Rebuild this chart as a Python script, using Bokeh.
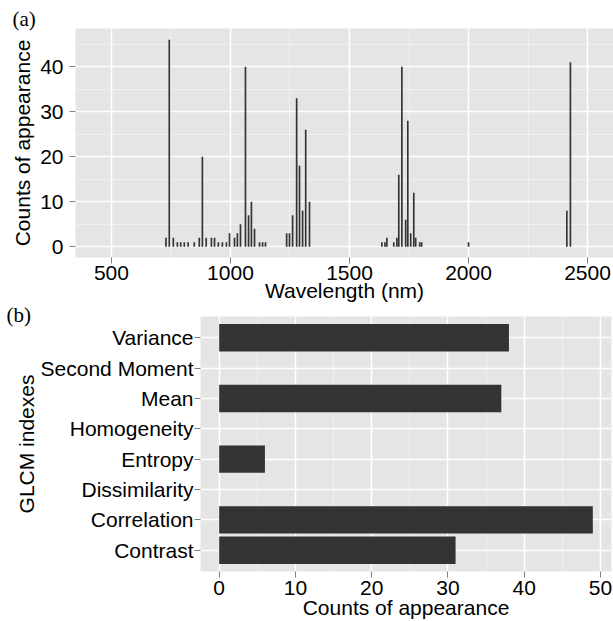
from bokeh.plotting import figure
from bokeh.layouts import column, row
from bokeh.models import ColumnDataSource, Range1d, FactorRange, FixedTicker
from bokeh.embed import file_html
from bokeh.resources import INLINE

# ---- data (a) ----
wavelengths = [729, 743, 760, 777, 791, 806, 822, 848, 869, 882, 898, 920, 933, 949, 966, 983, 996,
               1017, 1029, 1042, 1063, 1076, 1088, 1101, 1122, 1135, 1147,
               1236, 1248, 1261, 1278, 1290, 1303, 1316, 1332,
               1636, 1649, 1657, 1686, 1699, 1707, 1720, 1736, 1745, 1757, 1770, 1778, 1795, 1803,
               2000, 2413, 2428]
counts = [2, 46, 2, 1, 1, 1, 1, 1, 2, 20, 2, 2, 2, 1, 1, 1, 3,
          2, 3, 5, 40, 7, 10, 4, 1, 1, 1,
          3, 3, 7, 33, 18, 8, 26, 10,
          1, 1, 2, 1, 2, 16, 40, 6, 28, 3, 12, 2, 1, 1,
          1, 8, 41]
x_ticks_a = [500, 1000, 1500, 2000, 2500]
x_minor_a = [750, 1250, 1750, 2250]
y_ticks_a = [0, 10, 20, 30, 40]
y_minor_a = [5, 15, 25, 35, 45]

# ---- data (b) ----
glcm = ["Contrast", "Correlation", "Dissimilarity", "Entropy",
        "Homogeneity", "Mean", "Second Moment", "Variance"]
glcm_counts = [31, 49, 0, 6, 0, 37, 0, 38]
x_ticks_b = [0, 10, 20, 30, 40, 50]
x_minor_b = [5, 15, 25, 35, 45]

FONT = "Liberation Sans"
SERIF = "Liberation Serif"
BAR = "#333333"
PANEL = "#E5E5E5"


def style(p):
    p.background_fill_color = PANEL
    p.border_fill_color = "white"
    p.outline_line_color = None
    for ax in p.axis:
        ax.axis_line_color = None
        ax.major_tick_line_color = "#7F7F7F"
        ax.major_tick_line_width = 1
        ax.major_tick_out = 6
        ax.major_tick_in = 0
        ax.minor_tick_line_color = None
        ax.major_label_text_font = FONT
        ax.major_label_text_font_size = "21px"
        ax.major_label_text_color = "black"
        ax.axis_label_text_font = FONT
        ax.axis_label_text_font_size = "21px"
        ax.axis_label_text_font_style = "normal"
        ax.axis_label_text_color = "black"
    for g in p.grid:
        g.grid_line_color = "white"
        g.grid_line_width = 1.6
        g.minor_grid_line_color = "#F2F2F2"
        g.minor_grid_line_width = 0.8


def tag(p, offset, standoff):
    p.title.align = "left"
    p.title.vertical_align = "top"
    p.title.offset = offset
    p.title.standoff = standoff
    p.title.text_font = SERIF
    p.title.text_font_size = "21px"
    p.title.text_font_style = "normal"
    p.title.text_color = "black"


# ---- panel (a) ----
src_a = ColumnDataSource(dict(wl=wavelengths, n=counts))
p1 = figure(width=613, height=304, x_range=Range1d(349, 2609), y_range=Range1d(-2.4, 48.5),
            output_backend="svg", toolbar_location=None, title="(a)", title_location="above",
            min_border_left=75, min_border_right=0, min_border_top=28, min_border_bottom=47)
p1.vbar(x="wl", top="n", bottom=0, width=7, source=src_a, fill_color=BAR, line_color=None)
p1.xaxis.ticker = FixedTicker(ticks=x_ticks_a, minor_ticks=x_minor_a)
p1.yaxis.ticker = FixedTicker(ticks=y_ticks_a, minor_ticks=y_minor_a)
p1.xaxis.axis_label = "Wavelength (nm)"
p1.yaxis.axis_label = "Counts of appearance"
style(p1)
p1.xaxis.major_label_standoff = 2
p1.xaxis.axis_label_standoff = -4
p1.yaxis.major_label_standoff = 6
p1.yaxis.axis_label_standoff = 3
tag(p1, -63, -9)

# ---- panel (b) ----
src_b = ColumnDataSource(dict(cat=glcm, n=glcm_counts))
p2 = figure(width=613, height=317, x_range=Range1d(-2.45, 51.45),
            y_range=FactorRange(factors=glcm, range_padding=0.2, range_padding_units="absolute"),
            output_backend="svg", toolbar_location=None, title="(b)", title_location="above",
            min_border_left=200, min_border_right=2, min_border_top=12, min_border_bottom=49)
p2.hbar(y="cat", right="n", left=0, height=0.9, source=src_b, fill_color=BAR, line_color=None)
p2.xaxis.ticker = FixedTicker(ticks=x_ticks_b, minor_ticks=x_minor_b)
p2.xaxis.axis_label = "Counts of appearance"
p2.yaxis.axis_label = "GLCM indexes"
style(p2)
p2.xaxis.major_label_standoff = 3
p2.xaxis.axis_label_standoff = -2
p2.yaxis.major_label_standoff = 1
p2.yaxis.axis_label_standoff = 0
tag(p2, -194, -24)

layout = column(row(p1), row(p2))
open("out.html", "w").write(file_html(layout, INLINE))
